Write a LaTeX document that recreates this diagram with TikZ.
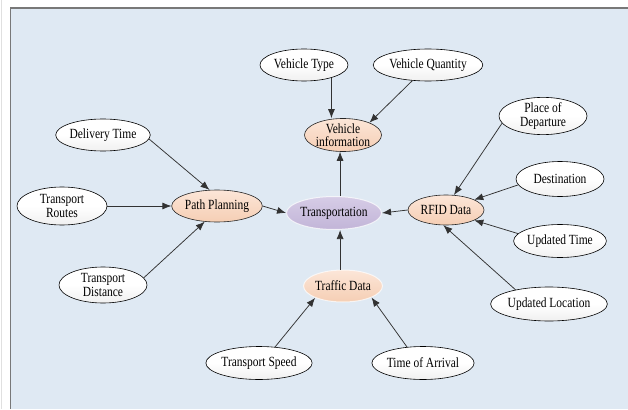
\documentclass[tikz,border=0pt]{standalone}
\usepackage{fontspec}
\setmainfont{Liberation Serif}[FakeStretch=0.82]
\usetikzlibrary{shapes.geometric,arrows.meta}

\definecolor{panel}{RGB}{223,233,243}
\definecolor{framegray}{RGB}{120,120,120}
\definecolor{peachtop}{RGB}{252,230,216}
\definecolor{peachbot}{RGB}{245,206,180}
\definecolor{lavtop}{RGB}{214,204,230}
\definecolor{lavbot}{RGB}{194,181,216}
\definecolor{arrowgray}{RGB}{50,50,50}

\tikzset{
  x=1pt, y=-1pt,
  base/.style={ellipse, inner sep=0pt, align=center,
    font=\fontsize{14}{13.5}\selectfont},
  leaf/.style={base, draw=black, line width=0.6pt,
    top color=white, bottom color=black!6, middle color=white},
  hub/.style={base, draw=black!85, line width=0.6pt,
    top color=peachtop, bottom color=peachbot},
  hubsoft/.style={base, draw=white, draw opacity=0.7, line width=1pt,
    top color=peachtop, bottom color=peachbot},
  core/.style={base, draw=white, draw opacity=0.7, line width=1pt,
    top color=lavtop, bottom color=lavbot},
  link/.style={draw=arrowgray, line width=0.75pt,
    -{Latex[length=9pt,width=7pt]}},
}

\begin{document}
\begin{tikzpicture}
  % canvas and panel
  \useasboundingbox (0,0) rectangle (628,409);
  \fill[white] (0,0) rectangle (628,409);
  \draw[black!12, line width=1pt] (1,0) -- (1,409);
  \fill[panel] (10,8) rectangle (628,409);
  \draw[framegray, line width=1.5pt] (10.5,409) -- (10.5,8) -- (628,8);

  % central node and second-level groups
  \node[core, minimum width=93pt, minimum height=33pt] (tr) at (334,213) {Transportation};
  \node[hub, minimum width=77pt, minimum height=31pt] (vi) at (343,135) {Vehicle\\information};
  \node[hub, minimum width=77pt, minimum height=32pt] (pp) at (217,206) {Path Planning};
  \node[hub, minimum width=76pt, minimum height=30pt] (rfid) at (446,210) {RFID Data};
  \node[hubsoft, minimum width=77pt, minimum height=32pt] (trf) at (343,286) {Traffic Data};

  % data sources
  \node[leaf, minimum width=88pt, minimum height=32pt] (vt) at (304,65) {Vehicle Type};
  \node[leaf, minimum width=103pt, minimum height=32pt] (vq) at (428,65) {Vehicle Quantity};
  \node[leaf, minimum width=88pt, minimum height=32pt] (dt) at (103,135) {Delivery Time};
  \node[leaf, minimum width=90pt, minimum height=38pt] (troutes) at (62,206) {Transport\\Routes};
  \node[leaf, minimum width=88pt, minimum height=36pt] (tdist) at (103,285) {Transport\\Distance};
  \node[leaf, minimum width=88pt, minimum height=36pt] (pod) at (543,116) {Place of\\Departure};
  \node[leaf, minimum width=88pt, minimum height=35pt] (dest) at (560,179) {Destination};
  \node[leaf, minimum width=88pt, minimum height=33pt] (ut) at (560,241) {Updated Time};
  \node[leaf, minimum width=101pt, minimum height=34pt] (ul) at (549,304) {Updated Location};
  \node[leaf, minimum width=88pt, minimum height=33pt] (ts) at (259,363) {Transport Speed};
  \node[leaf, minimum width=88pt, minimum height=33pt] (toa) at (423,363) {Time of Arrival};

  % vehicle information
  \draw[link] (vt.-25) -- (vt.-25 |- vi.north);
  \draw[link] (vq.-135) -- (vi.25);
  \draw[link] (tr.north -| vi.-100) -- (vi.-100);

  % path planning
  \draw[link] (dt.-5) -- (pp.115);
  \draw[link] (troutes.east) -- (pp.west);
  \draw[link] (tdist.10) -- (pp.-128);
  \draw[link] (pp.east) -- (tr.west);

  % RFID data
  \draw[link] (pod.-170) -- (rfid.62);
  \draw[link] (dest.-172) -- (rfid.20);
  \draw[link] (ut.170) -- (rfid.-20);
  \draw[link] (ul.157) -- (rfid.-100);
  \draw[link] (rfid.west) -- (tr.east);

  % traffic data
  \draw[link] (trf.100) -- (trf.100 |- tr.south);
  \draw[link] (ts.45) -- (trf.-157);
  \draw[link] (toa.135) -- (trf.-22);
\end{tikzpicture}
\end{document}
